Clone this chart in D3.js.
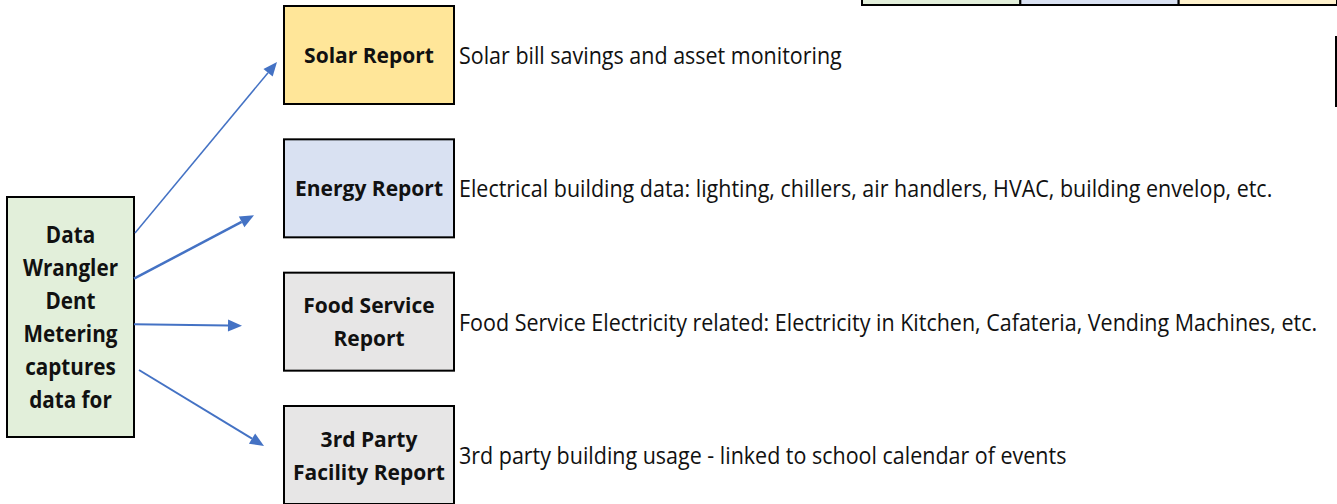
<!DOCTYPE html>
<html>
<head>
<meta charset="utf-8">
<script src="https://cdn.jsdelivr.net/npm/d3@7"></script>
<style>
  body { margin: 0; background: #fff; }
  svg { display: block; }
</style>
</head>
<body>
<div id="diagram"></div>
<script>
// The reports the metering data feeds into
var reports = ["Solar Report", "Energy Report", "Food Service Report", "3rd Party Facility Report"];
var reportLines = [["Solar Report"], ["Energy Report"], ["Food Service", "Report"], ["3rd Party", "Facility Report"]];
var descriptions = [
    "Solar bill savings and asset monitoring",
    "Electrical building data: lighting, chillers, air handlers, HVAC, building envelop, etc.",
    "Food Service Electricity related: Electricity in Kitchen, Cafateria, Vending Machines, etc.",
    "3rd party building usage - linked to school calendar of events"
];
var reportFills = ["#ffe699", "#d9e1f2", "#e7e6e6", "#e7e6e6"];

// The source box on the left
var sourceLines = ["Data", "Wrangler", "Dent", "Metering", "captures", "data for"];
var sourceFill = "#e2efda";

// Colour cells peeking in at the top right
var legendFills = ["#e2efda", "#d9e1f2", "#fff2cc"];

var width = 1337, height = 504;
var arrowColor = "#4472c4";
var textColor = "#111";
var fontFamily = "'Open Sans', 'Noto Sans', sans-serif";
var lineGap = 33;

var svg = d3.select("#diagram").append("svg")
    .attr("width", width)
    .attr("height", height);

// Vertical placement of the report boxes
var y = d3.scalePoint().domain(reports).range([55, 455]);
var boxX = 284, boxW = 170, boxH = 98;
var src = { x: 7, y: 197, w: 127, h: 240 };

// Horizontal squeeze so the text takes the narrow Calibri-like widths
var descScale = 0.895, labelScale = 0.955, srcScale = 0.92;

// Top-right colour cells
var legendX = d3.scaleBand().domain(d3.range(legendFills.length)).range([862, 1337]);
svg.selectAll("rect.legend")
    .data(legendFills)
    .enter().append("rect")
    .attr("class", "legend")
    .attr("x", (d, i) => legendX(i))
    .attr("y", -10)
    .attr("width", legendX.bandwidth())
    .attr("height", 15)
    .attr("fill", d => d)
    .attr("stroke", "#000")
    .attr("stroke-width", 2);

svg.append("line")
    .attr("x1", 1336).attr("x2", 1336)
    .attr("y1", 36).attr("y2", 107)
    .attr("stroke", "#000").attr("stroke-width", 2);

// Source box
svg.append("rect")
    .attr("x", src.x).attr("y", src.y)
    .attr("width", src.w).attr("height", src.h)
    .attr("fill", sourceFill)
    .attr("stroke", "#000").attr("stroke-width", 2);

svg.append("g").selectAll("text")
    .data(sourceLines)
    .enter().append("text")
    .attr("transform", (d, i) => `translate(${src.x + src.w / 2}, ${src.y + src.h / 2 + 8 + (i - (sourceLines.length - 1) / 2) * lineGap}) scale(${srcScale}, 1)`)
    .attr("text-anchor", "middle")
    .attr("font-family", fontFamily)
    .attr("font-weight", "bold")
    .attr("font-size", 22.5)
    .attr("fill", textColor)
    .text(d => d);

// Report boxes
var boxes = svg.selectAll("g.report")
    .data(reports)
    .enter().append("g")
    .attr("class", "report");

boxes.append("rect")
    .attr("x", boxX)
    .attr("y", d => y(d) - boxH / 2)
    .attr("width", boxW)
    .attr("height", boxH)
    .attr("fill", (d, i) => reportFills[i])
    .attr("stroke", "#000")
    .attr("stroke-width", 2);

boxes.selectAll("text")
    .data((d, i) => reportLines[i].map((t, j, a) => ({ text: t, cy: y(d), j: j, n: a.length })))
    .enter().append("text")
    .attr("transform", d => `translate(${boxX + boxW / 2}, ${d.cy + 8 + (d.j - (d.n - 1) / 2) * lineGap}) scale(${labelScale}, 1)`)
    .attr("text-anchor", "middle")
    .attr("font-family", fontFamily)
    .attr("font-weight", "bold")
    .attr("font-size", 22)
    .attr("fill", textColor)
    .text(d => d.text);

// Descriptions next to each box
svg.selectAll("text.desc")
    .data(descriptions)
    .enter().append("text")
    .attr("class", "desc")
    .attr("transform", (d, i) => `translate(459, ${y(reports[i]) + 9}) scale(${descScale}, 1)`)
    .attr("font-family", fontFamily)
    .attr("font-size", 24)
    .attr("fill", textColor)
    .text(d => d);

// Arrows from the source box to each report
var arrowStart = d3.scaleLinear().domain([0, reports.length - 1]).range([233, 370]);
var startX = [135, 134, 134, 139];
var tipDx = [-7, -30, -42, -20];
var tipDy = [7, 27, 4, -9];
var arrowWidth = [1.5, 2.5, 2, 2];

reports.forEach(function (r, i) {
    var x1 = startX[i], y1 = arrowStart(i);
    var x2 = boxX + tipDx[i], y2 = y(r) + tipDy[i];
    var ang = Math.atan2(y2 - y1, x2 - x1);
    var len = 14, half = 6;
    var bx = x2 - len * Math.cos(ang), by = y2 - len * Math.sin(ang);

    svg.append("line")
        .attr("x1", x1).attr("y1", y1)
        .attr("x2", bx).attr("y2", by)
        .attr("stroke", arrowColor)
        .attr("stroke-width", arrowWidth[i]);

    svg.append("path")
        .attr("d", d3.line()([
            [x2, y2],
            [bx - half * Math.sin(ang), by + half * Math.cos(ang)],
            [bx + half * Math.sin(ang), by - half * Math.cos(ang)]
        ]) + "Z")
        .attr("fill", arrowColor);
});
</script>
</body>
</html>
